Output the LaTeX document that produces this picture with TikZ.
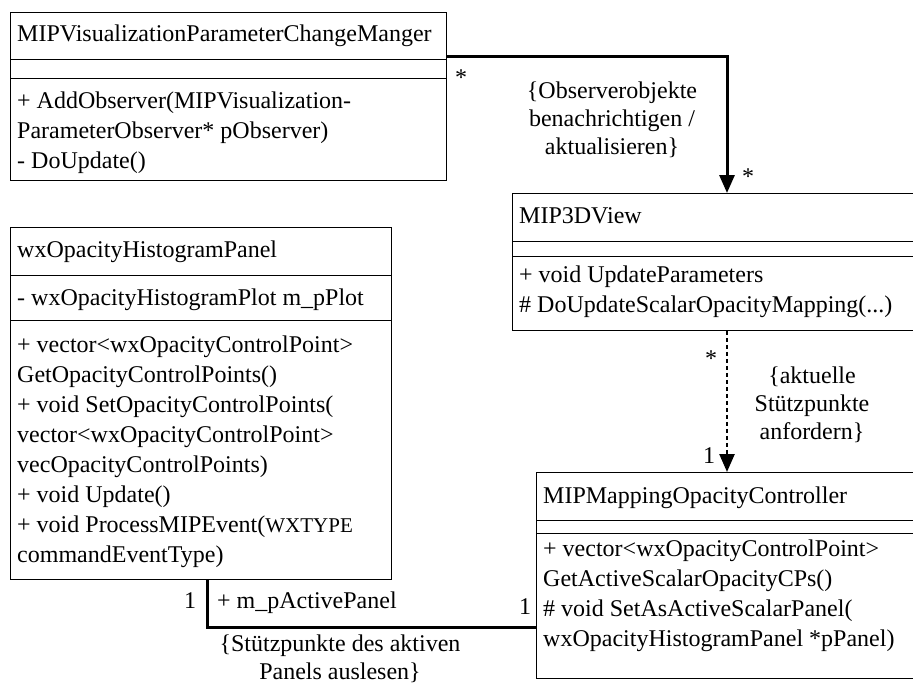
\documentclass[tikz,border=0pt]{standalone}
\usepackage{fontspec}
\setmainfont{Liberation Serif}
\usetikzlibrary{arrows.meta}
\begin{document}
\begin{tikzpicture}[x=1pt,y=-1pt,
  classbox/.style={draw, line width=0.8pt, rectangle, inner sep=0pt, anchor=north west},
  % multi-line texts are anchored at the baseline of their last line
  umltext/.style={anchor=base west, inner sep=0pt, align=left, font=\fontsize{24}{30}\selectfont},
  lbl/.style={inner sep=0pt, align=center, font=\fontsize{24}{28}\selectfont},
  mult/.style={anchor=base, inner sep=0pt, font=\fontsize{24}{28}\selectfont},
  sep/.style={line width=0.8pt},
  assoc/.style={line width=3pt},
  dep/.style={line width=2.5pt, dash pattern=on 4pt off 3pt},
  tip/.style={-{Triangle[length=18pt,width=15pt]}}
]
\useasboundingbox (0,0) rectangle (913,690);
\clip (0,0) rectangle (913,690);

% class boxes
\node[classbox, minimum width=436pt, minimum height=168pt] (mgr) at (10,12) {};
\node[classbox, minimum width=408pt, minimum height=137pt] (view) at (512,193) {};
\node[classbox, minimum width=381pt, minimum height=352pt] (panel) at (10,227) {};
\node[classbox, minimum width=384pt, minimum height=206pt] (ctrl) at (536,472) {};

% compartment separators
\draw[sep] ([yshift=-47pt]mgr.north west) -- ([yshift=-47pt]mgr.north east);
\draw[sep] ([yshift=-66pt]mgr.north west) -- ([yshift=-66pt]mgr.north east);
\draw[sep] ([yshift=-48pt]view.north west) -- ([yshift=-48pt]view.north east);
\draw[sep] ([yshift=-63pt]view.north west) -- ([yshift=-63pt]view.north east);
\draw[sep] ([yshift=-48pt]panel.north west) -- ([yshift=-48pt]panel.north east);
\draw[sep] ([yshift=-93pt]panel.north west) -- ([yshift=-93pt]panel.north east);
\draw[sep] ([yshift=-48pt]ctrl.north west) -- ([yshift=-48pt]ctrl.north east);
\draw[sep] ([yshift=-61pt]ctrl.north west) -- ([yshift=-61pt]ctrl.north east);

% class contents
\node[umltext] (mgrname) at (17,42) {MIPVisualizationParameterChangeManger};
\node[umltext] (mgrops) at (17,168) {+ AddObserver(MIPVisualization-\\ParameterObserver* pObserver)\\- DoUpdate()};

\node[umltext] (viewname) at (519,223) {MIP3DView};
\node[umltext] (viewops) at (519,312) {+ void UpdateParameters\\\# DoUpdateScalarOpacityMapping(...)};

\node[umltext] (panelname) at (17,257) {wxOpacityHistogramPanel};
\node[umltext] (panelattr) at (17,305) {- wxOpacityHistogramPlot m\_pPlot};
\node[umltext] (panelops) at (17,562) {+ vector<wxOpacityControlPoint>\\GetOpacityControlPoints()\\+ void SetOpacityControlPoints(\\vector<wxOpacityControlPoint>\\vecOpacityControlPoints)\\+ void Update()\\+ void ProcessMIPEvent({\fontsize{21}{30}\selectfont WXTYPE}\\commandEventType)};

\node[umltext] (ctrlname) at (543,503) {MIPMappingOpacityController};
\node[umltext] (ctrlops) at (543,646) {+ vector<wxOpacityControlPoint>\\GetActiveScalarOpacityCPs()\\\# void SetAsActiveScalarPanel(\\wxOpacityHistogramPanel *pPanel)};

% associations
\draw[assoc, tip] ([yshift=-45pt]mgr.north east) -| ([xshift=215pt]view.north west);
\draw[dep, tip] ([xshift=215pt]view.south west) -- ([xshift=191pt]ctrl.north west);
\draw[assoc] ([xshift=197pt]panel.south west) |- ([yshift=51pt]ctrl.south west);

% multiplicities, roles and constraints
\node[mult] (s1) at (461,86) {*};
\node[mult] (s2) at (748,185) {*};
\node[lbl] (c1) at (612,120) {\{Observerobjekte\\benachrichtigen /\\aktualisieren\}};

\node[mult] (s3) at (711,366) {*};
\node[mult] (n1) at (709,463) {1};
\node[lbl] (c2) at (812,405) {\{aktuelle\\Stützpunkte\\anfordern\}};

\node[mult] (n2) at (190,608) {1};
\node[umltext] (role) at (217,608) {+ m\_pActivePanel};
\node[mult] (n3) at (525,614) {1};
\node[lbl] (c3) at (340,659) {\{Stützpunkte des aktiven\\Panels auslesen\}};
\end{tikzpicture}
\end{document}
